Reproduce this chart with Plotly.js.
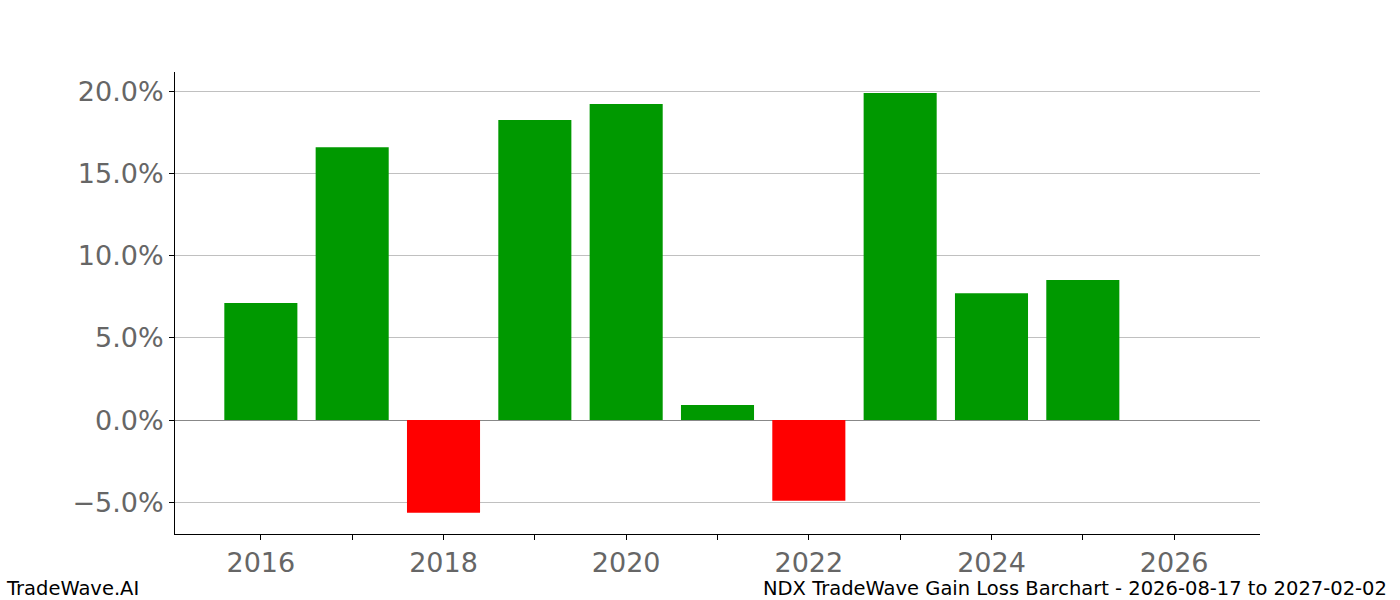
<!DOCTYPE html>
<html>
<head>
<meta charset="utf-8">
<script src="https://cdn.plot.ly/plotly-3.0.1.min.js"></script>
<style>
  html, body { margin: 0; padding: 0; background: #fff; }
  #chart { width: 1400px; height: 600px; }
</style>
</head>
<body>
<div id="chart"></div>
<script>
// yearly gain/loss in percent
const years = [2016, 2017, 2018, 2019, 2020, 2021, 2022, 2023, 2024, 2025];
const gains = [7.12, 16.6, -5.64, 18.25, 19.22, 0.91, -4.91, 19.89, 7.72, 8.52];

const xTickVals = [2016, 2017, 2018, 2019, 2020, 2021, 2022, 2023, 2024, 2025, 2026];
const xTickText = ['2016', '', '2018', '', '2020', '', '2022', '', '2024', '', '2026'];
const yTickVals = [-5, 0, 5, 10, 15, 20];
const yTickText = ['\u22125.0%', '0.0%', '5.0%', '10.0%', '15.0%', '20.0%'];

const barColors = gains.map(v => v >= 0 ? '#009900' : '#ff0000');

const data = [
    {
        x: years,
        y: gains,
        type: 'bar',
        width: 0.8,
        marker: {color: barColors, line: {width: 0}},
        hoverinfo: 'x+y'
    }
];

const layout = {
    width: 1400,
    height: 600,
    margin: {l: 175, r: 140, t: 72, b: 66},
    paper_bgcolor: '#fff',
    plot_bgcolor: '#fff',
    showlegend: false,
    font: {family: 'DejaVu Sans', size: 27, color: '#666666'},
    xaxis: {
        range: [2015.06, 2026.94],
        tickvals: xTickVals,
        ticktext: xTickText,
        ticks: 'outside',
        ticklen: 5,
        tickwidth: 1,
        tickcolor: '#000',
        showline: true,
        linecolor: '#000',
        linewidth: 1,
        showgrid: false,
        zeroline: false,
        tickfont: {size: 27, color: '#666666'}
    },
    yaxis: {
        range: [-6.93, 21.17],
        tickvals: yTickVals,
        ticktext: yTickText,
        ticks: 'outside',
        ticklen: 5,
        tickwidth: 1,
        tickcolor: '#000',
        showline: true,
        linecolor: '#000',
        linewidth: 1,
        showgrid: true,
        gridcolor: '#c0c0c0',
        gridwidth: 1,
        zeroline: true,
        zerolinecolor: '#888888',
        zerolinewidth: 1,
        tickfont: {size: 27, color: '#666666'}
    },
    annotations: [
        {
            text: 'TradeWave.AI',
            xref: 'paper', yref: 'paper',
            x: -175 / 1085, y: -54 / 462,
            xanchor: 'left', yanchor: 'middle',
            xshift: 4,
            showarrow: false,
            font: {family: 'DejaVu Sans', size: 19.5, color: '#000'}
        },
        {
            text: 'NDX TradeWave Gain Loss Barchart - 2026-08-17 to 2027-02-02',
            xref: 'paper', yref: 'paper',
            x: 1 + 126 / 1085, y: -54 / 462,
            xanchor: 'right', yanchor: 'middle',
            xshift: 3,
            showarrow: false,
            font: {family: 'DejaVu Sans', size: 19.5, color: '#000'}
        }
    ]
};

Plotly.newPlot('chart', data, layout, {displayModeBar: false, responsive: false});
</script>
</body>
</html>
